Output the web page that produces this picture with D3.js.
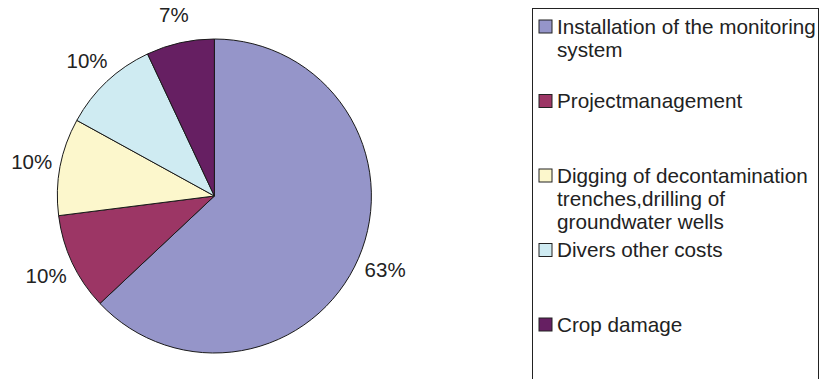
<!DOCTYPE html>
<html>
<head>
<meta charset="utf-8">
<script src="https://cdn.jsdelivr.net/npm/d3@7"></script>
<style>
  html, body { margin: 0; padding: 0; background: #fff; }
  svg { display: block; font-family: "Liberation Sans", Arial, Helvetica, sans-serif; }
</style>
</head>
<body>
<svg id="chart" width="820" height="379"></svg>
<script>
// Cost breakdown (share of total, %)
const categories = [
  "Installation of the monitoring system",
  "Projectmanagement",
  "Digging of decontamination trenches,drilling of groundwater wells",
  "Divers other costs",
  "Crop damage"
];
const shares = [63, 10, 10, 10, 7];
const colors = ["#9595c9", "#9c3665", "#fcf7cc", "#cfebf2", "#661f62"];
// Legend text, wrapped as in the legend box
const legendLines = [
  ["Installation of the monitoring", "system"],
  ["Projectmanagement"],
  ["Digging of decontamination", "trenches,drilling of", "groundwater wells"],
  ["Divers other costs"],
  ["Crop damage"]
];

const data = categories.map((name, i) => ({ name, value: shares[i], color: colors[i], lines: legendLines[i] }));

const svg = d3.select("#chart");
const cx = 214.4, cy = 196, radius = 157, labelRadius = 186;

const pie = d3.pie().value(d => d.value).sort(null);
const arc = d3.arc().innerRadius(0).outerRadius(radius);
const labelArc = d3.arc().innerRadius(labelRadius).outerRadius(labelRadius);

const g = svg.append("g").attr("transform", `translate(${cx},${cy})`);
const arcs = pie(data);

g.selectAll("path.slice")
  .data(arcs)
  .join("path")
  .attr("class", "slice")
  .attr("d", arc)
  .attr("fill", d => d.data.color)
  .attr("stroke", "#1a1a1a")
  .attr("stroke-width", 1)
  .attr("stroke-linejoin", "round");

g.selectAll("text.pct")
  .data(arcs)
  .join("text")
  .attr("class", "pct")
  .attr("transform", d => `translate(${labelArc.centroid(d)})`)
  .attr("text-anchor", "middle")
  .attr("dy", "0.36em")
  .attr("font-size", 20.5)
  .attr("fill", "#222")
  .text(d => d.data.value + "%");

// Legend
const legX = 532.5, legTop = 8.5, legW = 286;
svg.append("rect")
  .attr("x", legX).attr("y", legTop)
  .attr("width", legW).attr("height", 400)
  .attr("fill", "none").attr("stroke", "#222").attr("stroke-width", 1);

const firstBaseline = 33.5, entryStep = 74.5, lineStep = 23;
const entries = svg.selectAll("g.entry")
  .data(data)
  .join("g")
  .attr("class", "entry")
  .attr("transform", (d, i) => `translate(${legX + 6},${firstBaseline + i * entryStep})`);

entries.append("rect")
  .attr("x", 0.5).attr("y", -13.5)
  .attr("width", 13).attr("height", 13)
  .attr("fill", d => d.color)
  .attr("stroke", "#222").attr("stroke-width", 1);

entries.append("text")
  .attr("x", 18.5)
  .attr("font-size", 20.7)
  .attr("fill", "#222")
  .selectAll("tspan")
  .data(d => d.lines)
  .join("tspan")
  .attr("x", 18.5)
  .attr("y", (t, j) => j * lineStep)
  .text(t => t);
</script>
</body>
</html>
